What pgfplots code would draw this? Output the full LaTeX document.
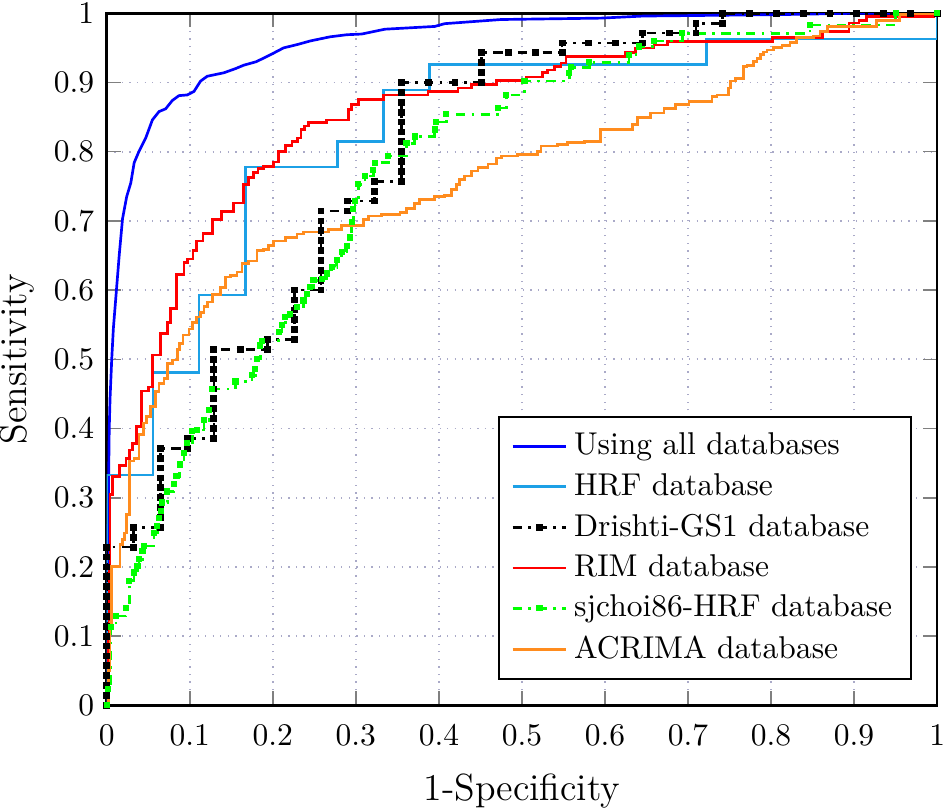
\documentclass[border={0pt 0pt 0pt 1pt}]{standalone}
\usepackage{pgfplots}
\usepackage{pgfplotstable}
\pgfplotsset{compat=1.18}
\definecolor{hrfblue}{RGB}{28,160,230}
\definecolor{acrimaorange}{RGB}{255,140,30}
\definecolor{gridc}{RGB}{170,170,200}

\pgfplotstableread{
x y
0 0
0 0.0143
0 0.0286
0 0.0429
0 0.0571
0 0.0714
0 0.0857
0 0.1
0 0.1143
0 0.1286
0 0.1429
0 0.1571
0 0.1714
0 0.1857
0 0.2
0 0.2143
0 0.2286
0.0323 0.2286
0.0323 0.2429
0.0323 0.2571
0.0645 0.2571
0.0645 0.2714
0.0645 0.2857
0.0645 0.3
0.0645 0.3143
0.0645 0.3286
0.0645 0.3429
0.0645 0.3571
0.0645 0.3714
0.0968 0.3714
0.0968 0.3857
0.1290 0.3857
0.1290 0.4
0.1290 0.4143
0.1290 0.4286
0.1290 0.4429
0.1290 0.4571
0.1290 0.4714
0.1290 0.4857
0.1290 0.5
0.1290 0.5143
0.1613 0.5143
0.1935 0.5143
0.1935 0.5286
0.2258 0.5286
0.2258 0.5429
0.2258 0.5571
0.2258 0.5714
0.2258 0.5857
0.2258 0.6
0.2581 0.6
0.2581 0.6143
0.2581 0.6286
0.2581 0.6429
0.2581 0.6571
0.2581 0.6714
0.2581 0.6857
0.2581 0.7
0.2581 0.7143
0.2903 0.7143
0.2903 0.7286
0.3226 0.7286
0.3226 0.7429
0.3226 0.7571
0.3548 0.7571
0.3548 0.7714
0.3548 0.7857
0.3548 0.8
0.3548 0.8143
0.3548 0.8286
0.3548 0.8429
0.3548 0.8571
0.3548 0.8714
0.3548 0.8857
0.3548 0.9
0.3871 0.9
0.4194 0.9
0.4516 0.9
0.4516 0.9143
0.4516 0.9286
0.4516 0.9429
0.4839 0.9429
0.5161 0.9429
0.5484 0.9429
0.5484 0.9571
0.5806 0.9571
0.6129 0.9571
0.6452 0.9571
0.6452 0.9714
0.6774 0.9714
0.7097 0.9714
0.7097 0.9857
0.7419 0.9857
0.7419 1
0.7742 1
0.8065 1
0.8387 1
0.8710 1
0.9032 1
0.9355 1
0.9677 1
1 1
}\drishti

\begin{document}
\begin{tikzpicture}
\begin{axis}[
  scale only axis,
  width=263.5pt, height=219.6pt,
  xmin=0, xmax=1, ymin=0, ymax=1,
  xtick={0,0.1,0.2,0.3,0.4,0.5,0.6,0.7,0.8,0.9,1},
  ytick={0,0.1,0.2,0.3,0.4,0.5,0.6,0.7,0.8,0.9,1},
  grid=major,
  grid style={dotted, line width=0.6pt, color=gridc},
  tick style={gray, line width=0.5pt},
  major tick length=4.5pt,
  axis line style={line width=0.8pt},
  tick label style={inner sep=0pt},
  xticklabel shift=6pt,
  yticklabel shift=3.8pt,
  xlabel={1-Specificity}, ylabel={Sensitivity},
  label style={font=\large, inner sep=0pt},
  xlabel style={yshift=-8.8pt},
  ylabel style={yshift=6pt},
  legend style={at={(0.97,0.037)}, anchor=south east,
    cells={anchor=west}, draw=black, line width=0.7pt, inner xsep=4pt, inner ysep=3pt,
    row sep=0.4pt},
]
% Using all databases
\addplot[blue, line width=0.85pt] coordinates {
(0,0) (0.0005,0.1) (0.001,0.2) (0.002,0.3) (0.003,0.4) (0.004,0.444) (0.006,0.5)
(0.008,0.545) (0.011,0.59) (0.015,0.65) (0.019,0.703) (0.024,0.735) (0.029,0.755)
(0.033,0.784) (0.039,0.801) (0.047,0.820) (0.055,0.846) (0.063,0.858) (0.071,0.862)
(0.079,0.874) (0.087,0.881) (0.097,0.882) (0.105,0.887) (0.113,0.902) (0.121,0.909)
(0.141,0.914) (0.155,0.920) (0.165,0.925) (0.180,0.930) (0.197,0.940) (0.213,0.950)
(0.230,0.955) (0.245,0.960) (0.269,0.966) (0.289,0.969) (0.307,0.970) (0.335,0.977)
(0.395,0.981) (0.407,0.985) (0.475,0.991) (0.595,0.993) (0.646,0.996) (0.807,0.998)
(0.9,1) (1,1)};
\addlegendentry{Using all databases}
% HRF
\addplot[hrfblue, line width=0.85pt, const plot mark left] coordinates {
(0,0) (0,0.333) (0.0556,0.481) (0.1111,0.593) (0.1667,0.778) (0.2778,0.815)
(0.3333,0.889) (0.3889,0.926) (0.7222,0.963) (1,1)};
\addlegendentry{HRF database}
% Drishti-GS1
\addplot[black, line width=0.85pt, dashdotted, mark=square*, mark size=0.65pt, mark options={solid}] table {\drishti};
\addlegendentry{Drishti-GS1 database}
% RIM
\addplot[red, line width=0.85pt, const plot mark left] coordinates {
(0,0) (0.002,0.1) (0.003,0.2) (0.004,0.305) (0.007,0.331) (0.015,0.347) (0.023,0.357)
(0.027,0.369) (0.031,0.378) (0.036,0.403) (0.042,0.454) (0.050,0.460) (0.055,0.506)
(0.065,0.537) (0.073,0.553) (0.077,0.573) (0.084,0.623) (0.093,0.640) (0.097,0.645)
(0.104,0.657) (0.108,0.671) (0.116,0.682) (0.127,0.702) (0.138,0.714) (0.153,0.726)
(0.165,0.753) (0.171,0.763) (0.177,0.770) (0.182,0.776) (0.189,0.779) (0.201,0.785)
(0.207,0.800) (0.215,0.809) (0.223,0.815) (0.230,0.820) (0.234,0.832) (0.238,0.837)
(0.243,0.842) (0.265,0.846) (0.291,0.861) (0.295,0.868) (0.303,0.875) (0.333,0.882)
(0.387,0.887) (0.423,0.892) (0.439,0.897) (0.469,0.903) (0.505,0.908) (0.525,0.914)
(0.531,0.918) (0.539,0.923) (0.547,0.928) (0.553,0.938) (0.625,0.943) (0.637,0.950)
(0.659,0.954) (0.675,0.959) (0.802,0.965) (0.862,0.974) (0.894,0.986) (0.906,0.990)
(0.915,0.995) (0.996,1) (1,1)};
\addlegendentry{RIM database}
% sjchoi86-HRF
\addplot[green, line width=0.85pt, dashdotted, const plot mark left, mark=square*, mark size=0.55pt, mark options={solid}] coordinates {
(0,0) (0.002,0.024) (0.005,0.113) (0.011,0.129) (0.023,0.141) (0.027,0.180) (0.033,0.192)
(0.037,0.201) (0.039,0.211) (0.043,0.223) (0.045,0.230) (0.057,0.249) (0.061,0.259)
(0.063,0.271) (0.065,0.281) (0.067,0.293) (0.073,0.309) (0.081,0.320) (0.084,0.331)
(0.088,0.348) (0.093,0.365) (0.097,0.379) (0.103,0.396) (0.109,0.398) (0.117,0.412)
(0.123,0.427) (0.127,0.457) (0.155,0.468) (0.175,0.477) (0.179,0.486) (0.181,0.501)
(0.185,0.520) (0.187,0.527) (0.207,0.540) (0.211,0.549) (0.215,0.561) (0.221,0.566)
(0.229,0.576) (0.237,0.585) (0.241,0.594) (0.245,0.604) (0.249,0.614) (0.259,0.616)
(0.265,0.624) (0.271,0.633) (0.277,0.643) (0.283,0.655) (0.289,0.664) (0.293,0.676)
(0.295,0.698) (0.297,0.717) (0.299,0.729) (0.303,0.753) (0.311,0.765) (0.321,0.774)
(0.323,0.784) (0.339,0.794) (0.361,0.812) (0.371,0.822) (0.395,0.832) (0.397,0.843)
(0.409,0.854) (0.471,0.863) (0.481,0.882) (0.503,0.902) (0.557,0.914) (0.559,0.922)
(0.581,0.929) (0.629,0.940) (0.641,0.952) (0.659,0.960) (0.693,0.971) (0.847,0.983)
(0.95,1) (1,1)};
\addlegendentry{sjchoi86-HRF database}
% ACRIMA
\addplot[acrimaorange, line width=0.85pt, const plot mark left] coordinates {
(0,0) (0.002,0.05) (0.004,0.12) (0.006,0.201) (0.016,0.232) (0.019,0.240) (0.021,0.249)
(0.024,0.276) (0.027,0.353) (0.033,0.357) (0.039,0.391) (0.044,0.408) (0.048,0.417)
(0.053,0.432) (0.059,0.453) (0.063,0.465) (0.069,0.472) (0.073,0.494) (0.079,0.499)
(0.085,0.514) (0.088,0.523) (0.092,0.535) (0.099,0.544) (0.103,0.553) (0.108,0.561)
(0.113,0.568) (0.117,0.576) (0.121,0.583) (0.127,0.594) (0.137,0.604) (0.143,0.619)
(0.149,0.621) (0.157,0.626) (0.163,0.638) (0.171,0.642) (0.181,0.657) (0.189,0.659)
(0.195,0.664) (0.201,0.671) (0.215,0.676) (0.229,0.681) (0.237,0.684) (0.267,0.688)
(0.283,0.693) (0.309,0.702) (0.315,0.707) (0.331,0.709) (0.353,0.712) (0.361,0.718)
(0.371,0.725) (0.377,0.731) (0.395,0.735) (0.407,0.737) (0.415,0.745) (0.421,0.753)
(0.425,0.760) (0.431,0.765) (0.439,0.772) (0.447,0.777) (0.459,0.782) (0.469,0.791)
(0.475,0.794) (0.495,0.796) (0.519,0.800) (0.523,0.808) (0.543,0.810) (0.555,0.813)
(0.575,0.815) (0.595,0.832) (0.633,0.839) (0.639,0.849) (0.655,0.856) (0.671,0.862)
(0.685,0.868) (0.701,0.873) (0.729,0.880) (0.735,0.882) (0.749,0.892) (0.751,0.902)
(0.757,0.906) (0.767,0.923) (0.771,0.925) (0.779,0.930) (0.783,0.935) (0.787,0.940)
(0.791,0.944) (0.795,0.947) (0.803,0.951) (0.813,0.953) (0.823,0.958) (0.831,0.965)
(0.851,0.967) (0.859,0.974) (0.868,0.981) (0.927,0.990) (0.955,0.998) (0.97,1) (1,1)};
\addlegendentry{ACRIMA database}
\end{axis}
\end{tikzpicture}
\end{document}
